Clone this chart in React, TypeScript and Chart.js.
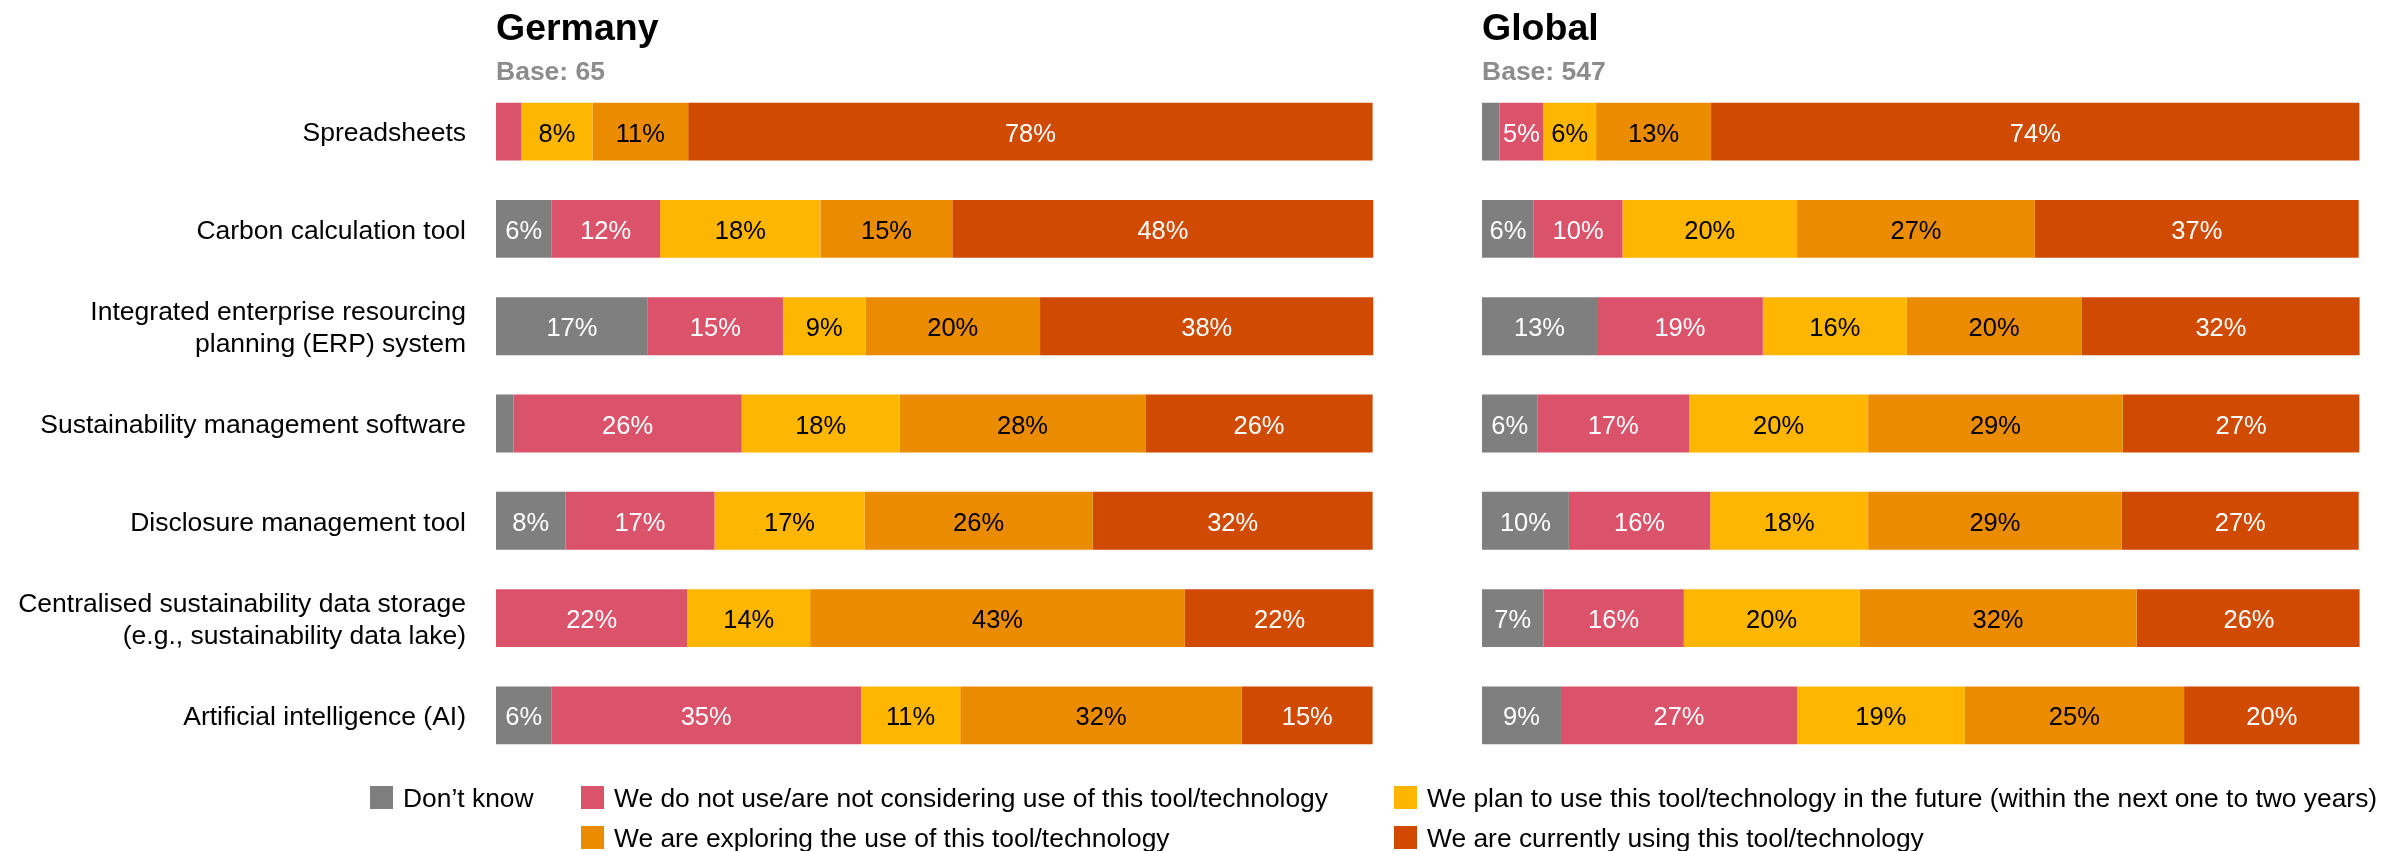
import React, { useEffect, useRef } from 'react';
import { Chart, registerables } from 'chart.js';

Chart.register(...registerables);

const FONT = '"Liberation Sans", Arial, Helvetica, sans-serif';
Chart.defaults.font.family = FONT;

const categories: (string | string[])[] = [
  'Spreadsheets',
  'Carbon calculation tool',
  ['Integrated enterprise resourcing', 'planning (ERP) system'],
  'Sustainability management software',
  'Disclosure management tool',
  ['Centralised sustainability data storage', '(e.g., sustainability data lake)'],
  'Artificial intelligence (AI)',
];

const seriesNames = [
  'Don\u2019t know',
  'We do not use/are not considering use of this tool/technology',
  'We plan to use this tool/technology in the future (within the next one to two years)',
  'We are exploring the use of this tool/technology',
  'We are currently using this tool/technology',
];
const seriesColors = ['#7f7f7f', '#db536a', '#ffb600', '#eb8c00', '#d04a02'];
const labelColors = ['#ffffff', '#ffffff', '#000000', '#000000', '#ffffff'];

const panelTitles = ['Germany', 'Global'];
const panelBases = ['Base: 65', 'Base: 547'];

// Germany
const germanyDontKnow = [0, 6.3, 17.3, 2.0, 7.9, 0, 6.3];
const germanyNotUsing = [2.9, 12.4, 15.4, 26.0, 17.0, 21.8, 35.3];
const germanyPlanning = [8.1, 18.3, 9.4, 18.0, 17.1, 14.0, 11.3];
const germanyExploring = [10.9, 15.0, 19.9, 28.0, 26.0, 42.7, 32.1];
const germanyUsing = [78.0, 48.0, 38.0, 25.9, 31.9, 21.6, 14.9];

// Global
const globalDontKnow = [2.0, 5.9, 13.1, 6.3, 9.9, 7.0, 9.0];
const globalNotUsing = [5.0, 10.1, 18.9, 17.3, 16.1, 16.0, 26.9];
const globalPlanning = [6.0, 19.9, 16.4, 20.4, 18.0, 20.0, 19.1];
const globalExploring = [13.1, 27.1, 19.9, 29.0, 28.9, 31.6, 25.0];
const globalUsing = [73.9, 36.9, 31.8, 27.0, 27.0, 25.6, 20.0];

const germanySeries = [germanyDontKnow, germanyNotUsing, germanyPlanning, germanyExploring, germanyUsing];
const globalSeries = [globalDontKnow, globalNotUsing, globalPlanning, globalExploring, globalUsing];

const LABEL_MIN = 4;

function makeDecorPlugin(title: string, base: string) {
  return {
    id: 'panelDecor',
    afterDatasetsDraw(chart: any) {
      const ctx = chart.ctx;
      chart.data.datasets.forEach((ds: any, di: number) => {
        const meta = chart.getDatasetMeta(di);
        meta.data.forEach((el: any, i: number) => {
          const v = ds.data[i];
          if (v == null || v < LABEL_MIN) return;
          const p = el.getProps(['x', 'y', 'base'], true);
          ctx.save();
          ctx.font = `25.5px ${FONT}`;
          ctx.fillStyle = labelColors[di];
          ctx.textAlign = 'center';
          ctx.textBaseline = 'middle';
          ctx.fillText(Math.round(v) + '%', (p.x + p.base) / 2, p.y + 3);
          ctx.restore();
        });
      });
    },
    afterDraw(chart: any) {
      const ctx = chart.ctx;
      const left = chart.chartArea.left;
      ctx.save();
      ctx.textAlign = 'left';
      ctx.textBaseline = 'alphabetic';
      ctx.fillStyle = '#000000';
      ctx.font = `bold 37.5px ${FONT}`;
      ctx.fillText(title, left, 39.5);
      ctx.fillStyle = '#8c8c8c';
      ctx.font = `bold 26.5px ${FONT}`;
      ctx.fillText(base, left, 80);
      ctx.restore();
    },
  };
}

type PanelProps = {
  title: string;
  base: string;
  series: number[][];
  showLabels: boolean;
  left: number;
  width: number;
  padLeft: number;
  padRight: number;
};

function Panel({ title, base, series, showLabels, left, width, padLeft, padRight }: PanelProps) {
  const ref = useRef<HTMLCanvasElement | null>(null);
  useEffect(() => {
    if (!ref.current) return;
    const chart = new Chart(ref.current, {
      type: 'bar',
      data: {
        labels: categories as any,
        datasets: series.map((d, i) => ({
          label: seriesNames[i],
          data: d,
          backgroundColor: seriesColors[i],
          borderWidth: 0,
          barPercentage: 0.595,
          categoryPercentage: 1,
        })),
      },
      options: {
        indexAxis: 'y',
        responsive: false,
        animation: false,
        layout: { padding: { top: 83, bottom: 87, left: padLeft, right: padRight } },
        plugins: {
          legend: { display: false },
          title: { display: false },
          tooltip: { enabled: false },
        },
        scales: {
          x: {
            stacked: true,
            min: 0,
            max: 100,
            display: false,
          },
          y: {
            stacked: true,
            display: showLabels,
            grid: { display: false, drawTicks: false },
            border: { display: false },
            ticks: {
              padding: 30,
              color: '#000000',
              labelOffset: 2.5,
              font: { size: 26.5, lineHeight: 1.2, family: FONT },
              autoSkip: false,
            },
            afterFit: (scale: any) => {
              if (showLabels) scale.width = 496;
            },
          },
        },
      },
      plugins: [makeDecorPlugin(title, base)],
    } as any);
    return () => chart.destroy();
  }, []);
  return (
    <canvas
      ref={ref}
      width={width}
      height={851}
      style={{ position: 'absolute', left, top: 0, width, height: 851 }}
    />
  );
}

const legendLayout = [
  { left: 370, center: 797.5 },
  { left: 581, center: 797.5 },
  { left: 1394, center: 797.5 },
  { left: 581, center: 837.5 },
  { left: 1394, center: 837.5 },
];

export default function App() {
  return (
    <div
      style={{
        position: 'absolute',
        left: 0,
        top: 0,
        width: 2405,
        height: 851,
        background: '#ffffff',
        overflow: 'hidden',
        fontFamily: FONT,
      }}
    >
      <Panel
        title={panelTitles[0]}
        base={panelBases[0]}
        series={germanySeries}
        showLabels={true}
        left={0}
        width={1380}
        padLeft={0}
        padRight={6.5}
      />
      <Panel
        title={panelTitles[1]}
        base={panelBases[1]}
        series={globalSeries}
        showLabels={false}
        left={1400}
        width={966}
        padLeft={82}
        padRight={6.4}
      />
      {seriesNames.map((name, i) => (
        <div
          key={i}
          style={{
            position: 'absolute',
            left: legendLayout[i].left,
            top: legendLayout[i].center - 15,
            height: 30,
            display: 'flex',
            alignItems: 'center',
            whiteSpace: 'nowrap',
          }}
        >
          <span
            style={{
              display: 'inline-block',
              width: 23,
              height: 23,
              background: seriesColors[i],
              marginRight: 10,
            }}
          />
          <span style={{ fontSize: 26.4, lineHeight: '30px', color: '#000000' }}>{name}</span>
        </div>
      ))}
    </div>
  );
}
